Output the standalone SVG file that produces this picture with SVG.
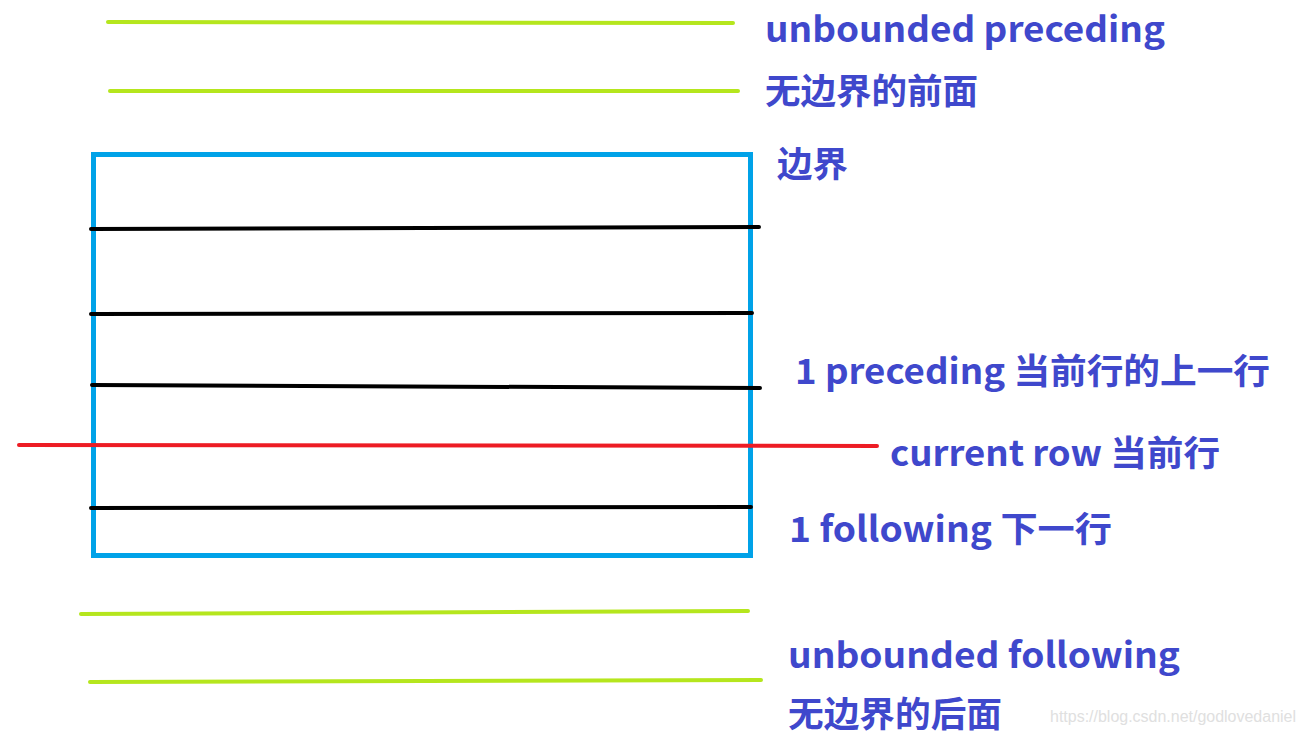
<svg xmlns="http://www.w3.org/2000/svg" width="1306" height="736" viewBox="0 0 1306 736">
<style>
.lbl{font-family:"Noto Sans CJK SC","Open Sans",sans-serif;font-weight:bold;font-size:35px;fill:#3f48cc}
.g{stroke:#b5e61d;stroke-width:4;stroke-linecap:round;fill:none}
.k{stroke:#000;stroke-width:4;stroke-linecap:round;fill:none}
.r{stroke:#ed1c24;stroke-width:4;stroke-linecap:round;fill:none}
.wm{font-family:"Liberation Sans",Arial,sans-serif;font-size:16px;fill:#e0e0e0}
</style>
<rect width="1306" height="736" fill="#fff"/>
<g id="frame">
<rect x="93.5" y="154.5" width="657" height="401" fill="none" stroke="#00a2e8" stroke-width="5"/>
</g>
<g id="connectors">
<line class="g" x1="108" y1="22" x2="733" y2="23"/>
<line class="g" x1="110" y1="91" x2="738" y2="91"/>
<line class="k" x1="91" y1="229" x2="759" y2="227"/>
<line class="k" x1="91" y1="314" x2="752" y2="313"/>
<line class="k" x1="92" y1="385" x2="760" y2="388"/>
<line class="r" x1="19" y1="445" x2="877" y2="446"/>
<line class="k" x1="91" y1="508" x2="751" y2="507"/>
<line class="g" x1="81" y1="614" x2="748" y2="611"/>
<line class="g" x1="90" y1="682" x2="761" y2="680"/>
</g>
<g id="labels">
<text class="lbl" x="765" y="42" textLength="400" lengthAdjust="spacingAndGlyphs">unbounded preceding</text>
<text class="lbl" x="765" y="104" textLength="213" lengthAdjust="spacingAndGlyphs">无边界的前面</text>
<text class="lbl" x="777" y="177" textLength="71" lengthAdjust="spacingAndGlyphs">边界</text>
<text class="lbl" x="795" y="384" textLength="475" lengthAdjust="spacingAndGlyphs">1 preceding 当前行的上一行</text>
<text class="lbl" x="890" y="466" textLength="330" lengthAdjust="spacingAndGlyphs">current row 当前行</text>
<text class="lbl" x="789" y="542" textLength="323" lengthAdjust="spacingAndGlyphs">1 following 下一行</text>
<text class="lbl" x="788" y="668" textLength="392" lengthAdjust="spacingAndGlyphs">unbounded following</text>
<text class="lbl" x="788" y="727" textLength="214" lengthAdjust="spacingAndGlyphs">无边界的后面</text>
<text class="wm" x="1050" y="722" textLength="246" lengthAdjust="spacingAndGlyphs">https://blog.csdn.net/godlovedaniel</text>
</g>
</svg>
